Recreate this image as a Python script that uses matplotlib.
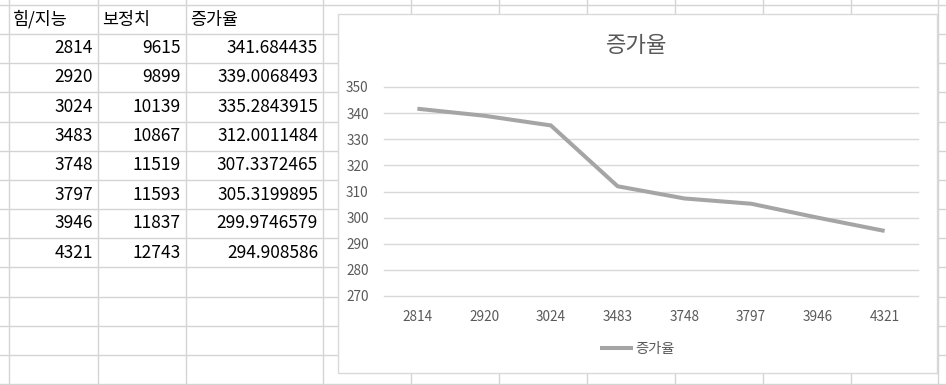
import matplotlib
matplotlib.use("Agg")
import matplotlib.pyplot as plt
from matplotlib.patches import Rectangle

plt.rcParams['font.family'] = ['Noto Sans CJK KR', 'DejaVu Sans']

# data from the sheet
headers = ["힘/지능", "보정치", "증가율"]
stat = [2814, 2920, 3024, 3483, 3748, 3797, 3946, 4321]
bonus = [9615, 9899, 10139, 10867, 11519, 11593, 11837, 12743]
rate = [341.684435, 339.0068493, 335.2843915, 312.0011484,
        307.3372465, 305.3199895, 299.9746579, 294.908586]
yticks = [270, 280, 290, 300, 310, 320, 330, 340, 350]

W, H = 946, 385
fig = plt.figure(figsize=(W / 100, H / 100), dpi=100)

# spreadsheet background, pixel coords
bg = fig.add_axes([0, 0, 1, 1])
bg.set_xlim(0, W)
bg.set_ylim(H, 0)
bg.axis("off")

grid_c = "#d4d4d4"
row_lines = [5, 33.5, 63, 92, 121.5, 150.5, 180, 209, 238, 267, 296.5, 325.5, 354.5, 383.5]
col_lines = [9, 98, 186, 323, 410.5, 499, 587, 675, 763, 851, 938]
for y in row_lines:
    bg.plot([0, W], [y, y], color=grid_c, lw=1, zorder=1)
for x in col_lines:
    bg.plot([x, x], [0, H], color=grid_c, lw=1, zorder=1)

# header row
hx = [13, 102, 190]
for x, h in zip(hx, headers):
    bg.text(x, 19.5, h, fontsize=12.5, ha="left", va="center", color="black", zorder=2)

# data rows
right = [93, 181, 318]
for i in range(len(stat)):
    yc = (row_lines[i + 1] + row_lines[i + 2]) / 2
    vals = [str(stat[i]), str(bonus[i]), str(rate[i])]
    for x, v in zip(right, vals):
        bg.text(x, yc, v, fontsize=12.5, ha="right", va="center", color="black", zorder=2)

# chart box
bg.add_patch(Rectangle((338, 14), 599, 359, facecolor="white",
                       edgecolor="#d9d9d9", lw=1, zorder=3))

txt_c = "#595959"
bg.text(637, 46, "증가율", fontsize=16, ha="center", va="center", color=txt_c, zorder=4)

# plot area
px0, px1, py0, py1 = 384, 918, 87, 296
ax = fig.add_axes([px0 / W, (H - py1) / H, (px1 - px0) / W, (py1 - py0) / H])
ax.patch.set_alpha(0)
ax.set_zorder(5)

x = list(range(len(stat)))
ax.plot(x, rate, color="#a5a5a5", lw=2.9, solid_capstyle="butt",
        solid_joinstyle="miter", label="증가율", zorder=3)

ax.set_xlim(-0.5, len(stat) - 0.5)
ax.set_ylim(270, 350)
ax.set_yticks(yticks)
ax.set_xticks(x)
ax.set_xticklabels([str(s) for s in stat])
ax.yaxis.grid(True, color="#d9d9d9", lw=1, clip_on=False)
ax.set_axisbelow(True)
for s in ax.spines.values():
    s.set_visible(False)
ax.tick_params(axis="both", length=0, labelsize=9.8, labelcolor=txt_c)
ax.tick_params(axis="y", pad=11)
ax.tick_params(axis="x", pad=10)

ax.legend(loc="center", bbox_to_anchor=(637.5 / W, (H - 349) / H),
          bbox_transform=fig.transFigure, frameon=False, fontsize=10.3,
          handlelength=2.3, handletextpad=0.2, labelcolor=txt_c)

fig.savefig("out.png", dpi=100)
